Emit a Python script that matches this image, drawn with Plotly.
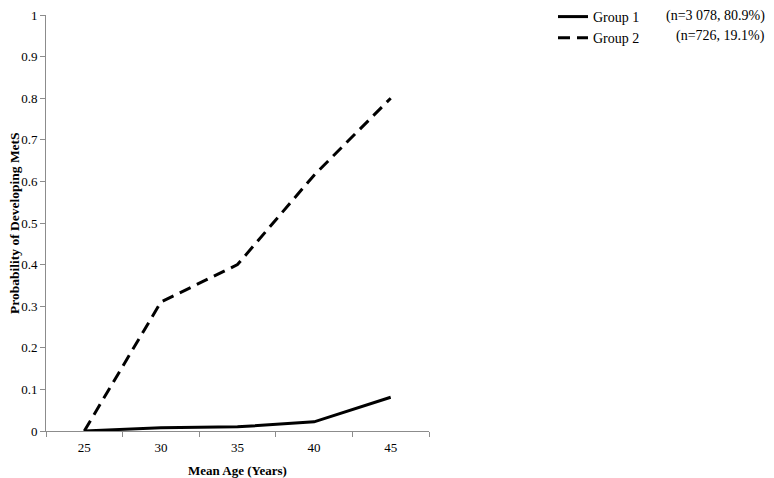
import plotly.graph_objects as go

# Mean age categories and probability of developing MetS per group
ages = ['25', '30', '35', '40', '45']
group1 = [0.0, 0.008, 0.010, 0.022, 0.081]
group2 = [0.0, 0.310, 0.400, 0.615, 0.800]
group_names = ['Group 1', 'Group 2']
group_counts = ['(n=3 078, 80.9%)', '(n=726, 19.1%)']
y_ticks = [0, 0.1, 0.2, 0.3, 0.4, 0.5, 0.6, 0.7, 0.8, 0.9, 1]

serif = 'Liberation Serif, Times New Roman, serif'
axis_grey = '#8c8c8c'

# page body adds an 8px margin, so the figure is 766x470 inside the 774x478 window
W, H = 766, 470
L, T = 38, 7
PW, PH = 383, 416

fig = go.Figure()
fig.add_trace(go.Scatter(
    x=ages, y=group1, name=group_names[0], mode='lines',
    line=dict(color='black', width=3)
))
fig.add_trace(go.Scatter(
    x=ages, y=group2, name=group_names[1], mode='lines',
    line=dict(color='black', width=3, dash='12px,7px')
))

# counts shown to the right of the legend entries
for i, txt in enumerate(group_counts):
    fig.add_annotation(
        text=txt, xref='paper', yref='paper',
        x=(759 - L) / PW, y=1.0 + (T - 8 - 20 * i) / PH,
        xanchor='right', yanchor='middle', showarrow=False,
        font=dict(family=serif, size=14, color='black')
    )

# y axis title, placed by hand so it sits left of the tick labels
fig.add_annotation(
    text='<b>Probability of Developing MetS</b>', textangle=-90,
    xref='paper', yref='paper', x=(6 - L) / PW, y=0.5,
    xanchor='center', yanchor='middle', showarrow=False,
    font=dict(family=serif, size=13.5, color='black')
)

fig.update_layout(
    width=W, height=H,
    margin=dict(l=L, r=W - L - PW, t=T, b=H - T - PH, autoexpand=False),
    paper_bgcolor='white', plot_bgcolor='white',
    font=dict(family=serif, size=13, color='black'),
    showlegend=True,
    legend=dict(
        x=(545 - L) / PW, y=1.0 + 14 / PH,
        xanchor='left', yanchor='top',
        font=dict(family=serif, size=14, color='black'),
        bgcolor='rgba(0,0,0,0)', tracegroupgap=0, itemwidth=30,
    ),
    xaxis=dict(
        type='category', tickson='boundaries', range=[-0.5, 4.5],
        showgrid=False, zeroline=False,
        showline=True, linecolor=axis_grey, linewidth=1,
        ticks='outside', ticklen=5, tickcolor=axis_grey,
        ticklabelstandoff=4,
        title=dict(text='<b>Mean Age (Years)</b>', standoff=12,
                   font=dict(family=serif, size=13)),
    ),
    yaxis=dict(
        range=[0, 1], tickvals=y_ticks,
        showgrid=False, zeroline=False,
        showline=True, linecolor=axis_grey, linewidth=1,
        ticks='outside', ticklen=5, tickcolor=axis_grey,
        ticklabeloverflow='allow',
    ),
)

fig.write_html('out.html')
